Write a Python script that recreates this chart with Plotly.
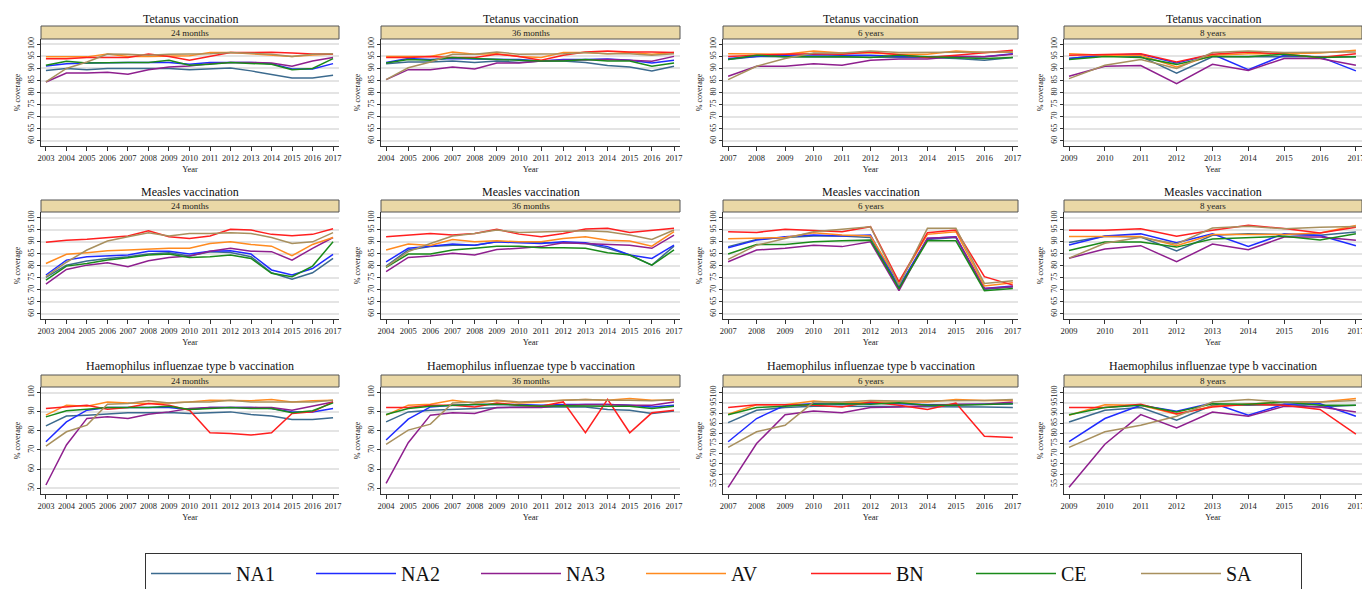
import plotly.graph_objects as go

# ---------------- data ----------------
series_names = ["NA1", "NA2", "NA3", "AV", "BN", "CE", "SA"]
series_colors = ["#3b6a8e", "#1f2bff", "#8e1f8e", "#ff8a1f", "#ff1f1f", "#1a8a1a", "#a8905e"]

vaccines = ["Tetanus vaccination", "Measles vaccination", "Haemophilus influenzae type b vaccination"]
ages = ["24 months", "36 months", "6 years", "8 years"]

years_24m = list(range(2003, 2018))
years_36m = list(range(2004, 2018))
years_6y = list(range(2007, 2018))
years_8y = list(range(2009, 2018))

tet_24m = {
    "NA1": [89.2, 90, 89.5, 90, 90, 90, 90, 89.5, 90, 90.2, 89, 87.6, 86.1, 86.1, 87.2],
    "NA2": [91, 92, 92.3, 92.5, 92.5, 92.5, 92.5, 91.7, 92.5, 92.5, 92.5, 92, 89.8, 89.8, 92],
    "NA3": [84.4, 88.1, 88.1, 88.4, 87.6, 89.5, 90.6, 91, 92, 92.5, 92.5, 92.3, 90.9, 93.1, 94.5],
    "AV": [94.8, 94.8, 94.8, 96, 95, 95, 95, 95.3, 96.6, 96.6, 96.1, 95.6, 95, 95.6, 96],
    "BN": [94, 94, 94.5, 94.5, 94.5, 96, 95, 93.4, 95, 96.6, 96.6, 96.7, 96.4, 96, 96],
    "CE": [91.3, 93, 92.3, 92.5, 92.5, 92.5, 93.4, 91.3, 91.7, 92.5, 92, 91.7, 89.5, 90, 94.1],
    "SA": [84.4, 90, 92.7, 96, 95.9, 95.5, 95.9, 95.9, 96.1, 96.6, 96.1, 95.9, 95, 95.9, 96.1],
}
tet_36m = {
    "NA1": [92, 92.7, 92.7, 93.1, 92.5, 93.1, 92.5, 93.1, 93.1, 92.5, 91.2, 90.6, 89, 90.9],
    "NA2": [92.5, 94.1, 93.7, 94.1, 93.9, 93.9, 93.7, 93.1, 93.7, 93.7, 93.9, 93.4, 92.3, 93.4],
    "NA3": [85.4, 89.5, 89.5, 90.6, 89.8, 92.3, 92.3, 93.1, 93.4, 93.7, 93.7, 93.4, 93, 95],
    "AV": [95, 95, 95, 96.8, 95.9, 96.1, 95, 94.5, 96.6, 96.6, 96.1, 96.6, 95.9, 96.6],
    "BN": [94.5, 94.5, 95, 94.5, 94.5, 95.9, 95, 93.4, 95.5, 96.8, 97.2, 96.8, 96.8, 96.6],
    "CE": [92.3, 93.7, 93.4, 94.5, 94.1, 93.9, 93.4, 93.1, 93.1, 93.7, 93.1, 93.1, 90.9, 92.3],
    "SA": [85.4, 90.3, 92.7, 95.9, 95.9, 96.8, 95.9, 95.9, 96.1, 96.6, 96.1, 96.1, 95.5, 96.1],
}
tet_6y = {
    "NA1": [93.7, 95, 94.8, 94.8, 94.5, 94.5, 94.8, 94.5, 94.1, 93.4, 94.5],
    "NA2": [94.1, 95, 95.5, 95.7, 95.5, 95.5, 95, 94.8, 95, 94.8, 96.1],
    "NA3": [86.8, 90.9, 90.9, 92, 91.3, 93.4, 93.9, 93.9, 95, 94.8, 95.9],
    "AV": [96.1, 95.9, 95.9, 97.2, 96.4, 96.4, 95.9, 95.9, 97.2, 96.6, 96.8],
    "BN": [95, 95.5, 95.9, 96.1, 95.9, 96.8, 95.5, 94.5, 95.5, 96.6, 97.5],
    "CE": [93.7, 95.5, 94.8, 95, 95, 94.5, 95.5, 94.8, 94.5, 94.1, 94.5],
    "SA": [85.4, 90.9, 94.1, 96.4, 96.4, 97.2, 96.6, 96.6, 96.6, 96.8, 96.8],
}
tet_8y = {
    "NA1": [94.1, 95.5, 95, 88.1, 94.8, 95, 94.8, 94.8, 94.8],
    "NA2": [94.1, 95.5, 95.9, 92.3, 95.9, 89.5, 95.5, 94.8, 89],
    "NA3": [86.8, 90.9, 91.2, 83.7, 91.7, 89.2, 94.1, 94.1, 91.3],
    "AV": [96.1, 95.5, 95.5, 90.6, 95.5, 96.1, 96.1, 96.4, 97.5],
    "BN": [95.5, 95.9, 96.1, 92.7, 95.9, 96.8, 95.9, 94.5, 96.1],
    "CE": [93.7, 95, 94.5, 91.7, 95, 94.8, 95.9, 94.5, 94.8],
    "SA": [85.8, 91.3, 93.7, 90, 96.6, 97.2, 96.6, 96.6, 96.8],
}
mea_24m = {
    "NA1": [75.2, 80.3, 82, 83.1, 83.8, 84.9, 85.5, 84.1, 85.9, 85.6, 83.8, 77.1, 74.4, 77.1, 83.1],
    "NA2": [76.2, 82.4, 83.8, 84.1, 84.5, 86.1, 86.1, 84.9, 86.1, 86.3, 84.9, 78.3, 76.2, 78.9, 84.8],
    "NA3": [72.4, 78.5, 80.3, 81.3, 79.6, 82.1, 83.5, 84.1, 86.1, 87.3, 86.1, 85.9, 82.4, 87.3, 91.8],
    "AV": [81, 84.8, 85.5, 86.3, 86.6, 87, 87.3, 87.3, 89.3, 90, 88.9, 88.2, 84.2, 88.9, 91.8],
    "BN": [89.8, 90.7, 91.1, 91.8, 92.4, 94.6, 92.1, 91.4, 92.4, 95.2, 94.9, 93.1, 92.5, 93.1, 95.4],
    "CE": [74.1, 79.9, 81, 82.4, 83.4, 84.5, 84.9, 83.5, 83.8, 84.5, 83.1, 76.9, 75.5, 79.9, 90],
    "SA": [75.5, 81.5, 86.6, 90.3, 92.1, 93.8, 92.4, 93.5, 93.5, 93.8, 93.5, 91.8, 89.3, 90, 93.8],
}
mea_36m = {
    "NA1": [79.9, 86.6, 88, 88.6, 88.6, 90, 90, 89.6, 89.6, 89.3, 87.3, 84.5, 80.3, 88.2],
    "NA2": [81.7, 87.3, 88.2, 89.1, 88.6, 90, 89.6, 89.3, 90, 89.6, 88, 84.5, 83.1, 88.6],
    "NA3": [77.6, 83.5, 84.1, 85.2, 84.5, 86.8, 87.3, 88, 89.6, 89.3, 89.1, 88.6, 87.3, 92.8],
    "AV": [86.6, 89.1, 88.5, 91, 90, 90.4, 90, 90, 91.4, 92.1, 90.7, 90.3, 88.2, 94.2],
    "BN": [92.1, 92.8, 93.5, 92.8, 93.5, 95.2, 93.2, 92.1, 93.5, 95.3, 95.6, 93.9, 94.6, 95.6],
    "CE": [79.4, 84.9, 84.9, 86.6, 87.3, 88.2, 88.2, 87.5, 87.5, 87.3, 85.5, 84.5, 80.3, 86.6],
    "SA": [79.6, 85.9, 89.3, 92.4, 93.5, 94.9, 93.9, 94.2, 94.6, 94.6, 94.2, 92.8, 91, 94.9],
}
mea_6y = {
    "NA1": [88, 91, 91.8, 92.4, 92.4, 91.8, 71, 91, 91.8, 70.2, 71.3],
    "NA2": [87.5, 90.7, 92.1, 92.8, 92.4, 92.8, 71.3, 91.4, 92.1, 70.6, 71.6],
    "NA3": [81.7, 86.6, 87.3, 88.6, 88, 90, 69.7, 91.5, 92, 70.6, 71.3],
    "AV": [91.3, 91.4, 91.8, 93.8, 92.8, 92.4, 73, 93.1, 94.2, 71.6, 73],
    "BN": [94.2, 93.9, 95.2, 94.6, 94.2, 96.3, 73.4, 93.8, 94.9, 75.5, 72],
    "CE": [84.9, 88.9, 88.9, 90, 90.4, 90.7, 70.6, 90.4, 90.4, 69.7, 70.6],
    "SA": [82.7, 88.6, 91.4, 94.2, 95.2, 96.3, 72, 95.6, 95.6, 72.7, 73.8],
}
mea_8y = {
    "NA1": [89.7, 92.3, 92, 86.2, 92.7, 93.4, 93, 92.7, 94.1],
    "NA2": [88.7, 92.4, 93.3, 89.6, 93.3, 88.1, 93.3, 92.6, 88.4],
    "NA3": [83.2, 87, 88.4, 81.7, 89.1, 86.7, 92, 92, 90.6],
    "AV": [92.2, 92.2, 92.2, 88.4, 93, 93, 93, 93.7, 96.8],
    "BN": [94.8, 94.8, 95.4, 92.3, 94.8, 96.9, 95.5, 93.7, 96.1],
    "CE": [86.4, 89.9, 89.9, 87.8, 91.2, 91.7, 92.3, 90.8, 93.4],
    "SA": [83.2, 89.4, 91.9, 89.1, 95.7, 96.5, 95.4, 96.1, 96.4],
}
hib_24m = {
    "NA1": [82.6, 87.7, 88.2, 88.7, 89.4, 89.4, 89.6, 89.1, 89.6, 89.9, 88.5, 87.7, 85.9, 85.9, 86.8],
    "NA2": [74.3, 84.7, 90.8, 92.2, 92.2, 92.2, 92.2, 91.1, 92.2, 92.2, 92.2, 91.7, 89.9, 89.9, 91.7],
    "NA3": [51.7, 72.6, 86.5, 87.3, 86.5, 88.7, 89.9, 91.7, 92.2, 92.2, 92.2, 92.2, 90.8, 92.9, 95.1],
    "AV": [88.2, 93.4, 92.9, 95.1, 94.6, 94.3, 94.6, 95.1, 96, 96, 95.7, 96.4, 95.1, 95.7, 96],
    "BN": [91.7, 92.5, 93.4, 91.3, 92.2, 94.3, 93.4, 90.8, 79, 78.6, 77.8, 79, 89.1, 89.9, 95.1],
    "CE": [87.3, 90.5, 91.3, 92.2, 92.2, 92.2, 92.9, 91.1, 91.7, 92.2, 91.7, 91.7, 89.4, 90.5, 94.6],
    "SA": [72, 79.5, 83, 93.9, 94.3, 95.7, 94.6, 95.1, 95.1, 96, 95.1, 95.1, 95.1, 95.1, 96],
}
hib_36m = {
    "NA1": [84.7, 89.9, 90.8, 91.3, 91.7, 92.2, 92.5, 92.5, 92.5, 92.5, 91.1, 90.8, 89.1, 90.3],
    "NA2": [75.2, 86.1, 92.5, 93.4, 93.8, 93.8, 93.8, 93.4, 93.8, 93.8, 93.8, 93.4, 92.5, 93.4],
    "NA3": [52.6, 73.8, 88.2, 89.4, 89.1, 92.2, 92.2, 92.2, 93.4, 93.8, 93.8, 93.4, 93.4, 95.1],
    "AV": [88.2, 93.4, 93.9, 96, 94.6, 95.7, 94.6, 95.1, 96, 96.4, 96, 96.9, 96, 96],
    "BN": [92.2, 92.2, 93.4, 93.4, 92.5, 94.6, 93.4, 92.9, 95.1, 79, 96.4, 79, 89.4, 90.8],
    "CE": [88.5, 91.7, 92.9, 93.4, 93.8, 93.9, 93.4, 92.9, 93.1, 92.9, 92.9, 92.9, 91.7, 92.9],
    "SA": [72.9, 80.4, 83.5, 94.6, 95.1, 96, 95.1, 95.7, 96, 96.4, 96, 96, 95.7, 96.4],
}
hib_6y = {
    "NA1": [85.3, 91.4, 92.7, 93.3, 93.3, 93.3, 93.3, 93, 93.3, 93, 92.7],
    "NA2": [75.9, 87.3, 93.8, 94.6, 94.3, 94.9, 94.6, 94.1, 94.1, 94.3, 94.6],
    "NA3": [53.5, 75, 89.2, 91, 90.2, 92.7, 93, 93.5, 94.3, 94.3, 95.4],
    "AV": [89.4, 94.1, 94.1, 95.9, 94.9, 95.4, 95.4, 95.4, 96.7, 96.2, 96.2],
    "BN": [92.7, 94.1, 94.1, 93.8, 93, 95.4, 93.8, 91.8, 94.9, 78.6, 78],
    "CE": [89.2, 92.7, 93.3, 94.3, 94.6, 94.3, 95.1, 93.8, 93.8, 94.3, 94.6],
    "SA": [73.1, 80.8, 84, 95.4, 95.4, 96.2, 95.9, 95.9, 95.9, 96.2, 96.6],
}
hib_8y = {
    "NA1": [85.6, 91.4, 92.7, 86.5, 93.8, 93.8, 94.3, 93, 93.8],
    "NA2": [75.9, 87.3, 93.8, 90.9, 94.9, 88.9, 94.3, 94.6, 88.4],
    "NA3": [53.5, 74.7, 89.2, 82.7, 90.5, 88.4, 93.3, 93, 90.5],
    "AV": [88.9, 94.1, 93.8, 89.4, 93.3, 94.3, 95.4, 95.4, 97.1],
    "BN": [92.7, 92.7, 94.3, 89.7, 93, 94.3, 93.8, 91.8, 79.6],
    "CE": [89.2, 92.7, 93.8, 90.5, 94.6, 94.3, 95.4, 93.8, 93.8],
    "SA": [73.1, 80.8, 84, 88.4, 95.4, 96.6, 95.4, 95.4, 96.2],
}

year_sets = [years_24m, years_36m, years_6y, years_8y]
panels = [
    [tet_24m, tet_36m, tet_6y, tet_8y],
    [mea_24m, mea_36m, mea_6y, mea_8y],
    [hib_24m, hib_36m, hib_6y, hib_8y],
]

# ---------------- layout geometry (pixels) ----------------
W, H = 1362, 589
FONT = "Liberation Serif"
col_px = [(41, 339), (381, 680), (723, 1018), (1064, 1362)]
x_ranges = [[2002.76, 2017.29], [2003.77, 2017.27], [2006.82, 2017.18], [2008.86, 2017.17]]
row_px = [(39, 146), (212, 319), (387, 494)]   # plot top, plot bottom
strip_px = [(26, 39), (200, 212), (375, 387)]
title_px = [19, 192, 366]

def py(p):
    return 1 - p / H

def px(p):
    return p / W

fig = go.Figure()
layout = dict(
    width=W, height=H,
    margin=dict(l=0, r=0, t=0, b=0, autoexpand=False),
    paper_bgcolor="white", plot_bgcolor="white",
    font=dict(family=FONT, color="#222"),
    showlegend=True,
)
shapes = []
annotations = []

for r in range(3):
    for c in range(4):
        k = r * 4 + c + 1
        xa = "x" if k == 1 else f"x{k}"
        ya = "y" if k == 1 else f"y{k}"
        data = panels[r][c]
        yrs = year_sets[c]
        for i, name in enumerate(series_names):
            fig.add_trace(go.Scatter(
                x=yrs, y=data[name], mode="lines", name=name,
                line=dict(color=series_colors[i], width=1.5),
                xaxis=xa, yaxis=ya, legendgroup=name,
                showlegend=(k == 1),
            ))
        if r < 2:
            yr = [57.9, 102.2] if r == 0 else [57.9, 102.4]
            tv = list(range(60, 101, 5))
        elif c < 2:
            yr = [47.0, 102.9]
            tv = list(range(50, 101, 10))
        else:
            yr = [50.2, 102.8]
            tv = list(range(55, 101, 5))
        x0, x1 = col_px[c]
        t0, b0 = row_px[r]
        layout[f"xaxis{k}"] = dict(
            domain=[px(x0), px(x1)], range=x_ranges[c], anchor=ya, automargin=False,
            tickmode="array", tickvals=yrs, ticktext=[str(v) for v in yrs],
            tickangle=0, ticklabeloverflow="allow",
            showgrid=False, zeroline=False, showline=True, linecolor="#333", linewidth=1,
            ticks="outside", ticklen=4, tickcolor="#333",
            tickfont=dict(size=8.5, family=FONT, color="#222"),
            title=dict(text="Year", font=dict(size=8.5, family=FONT, color="#222"), standoff=3),
        )
        layout[f"yaxis{k}"] = dict(
            domain=[py(b0), py(t0)], range=yr, anchor=xa, automargin=False,
            tickmode="array", tickvals=tv, tickangle=-90,
            showgrid=True, gridcolor="#e4e4e4", gridwidth=1.5,
            zeroline=False, showline=True, linecolor="#333", linewidth=1,
            ticks="outside", ticklen=3, tickcolor="#333",
            tickfont=dict(size=8, family=FONT, color="#222"),
            title=dict(text="% coverage", font=dict(size=8, family=FONT, color="#222"), standoff=4),
        )
        # strip
        s0, s1 = strip_px[r]
        shapes.append(dict(type="rect", xref="paper", yref="paper",
                           x0=px(x0), x1=px(x1), y0=py(s1), y1=py(s0),
                           fillcolor="#ead8a6", line=dict(color="#555", width=1), layer="below"))
        annotations.append(dict(text=ages[c], xref="paper", yref="paper",
                                x=px((x0 + x1) / 2), y=py((s0 + s1) / 2),
                                xanchor="center", yanchor="middle", showarrow=False,
                                font=dict(size=9, family=FONT, color="#222")))
        annotations.append(dict(text=vaccines[r], xref="paper", yref="paper",
                                x=px((x0 + x1) / 2), y=py(title_px[r]),
                                xanchor="center", yanchor="middle", showarrow=False,
                                font=dict(size=12, family=FONT, color="#111")))

layout["shapes"] = shapes
layout["annotations"] = annotations
layout["legend"] = dict(
    orientation="h", x=px(145), y=py(553), xanchor="left", yanchor="top",
    font=dict(size=20, family=FONT, color="#111"),
    bordercolor="#333", borderwidth=1, bgcolor="white",
    itemwidth=80, entrywidth=70, entrywidthmode="pixels",
    traceorder="normal", tracegroupgap=0,
)
fig.update_layout(**layout)
# remove the browser's default 8px page margin so the figure sits at the window origin
fig.write_html("out.html", config={"displayModeBar": False},
               post_script="document.body.style.margin='0';")
